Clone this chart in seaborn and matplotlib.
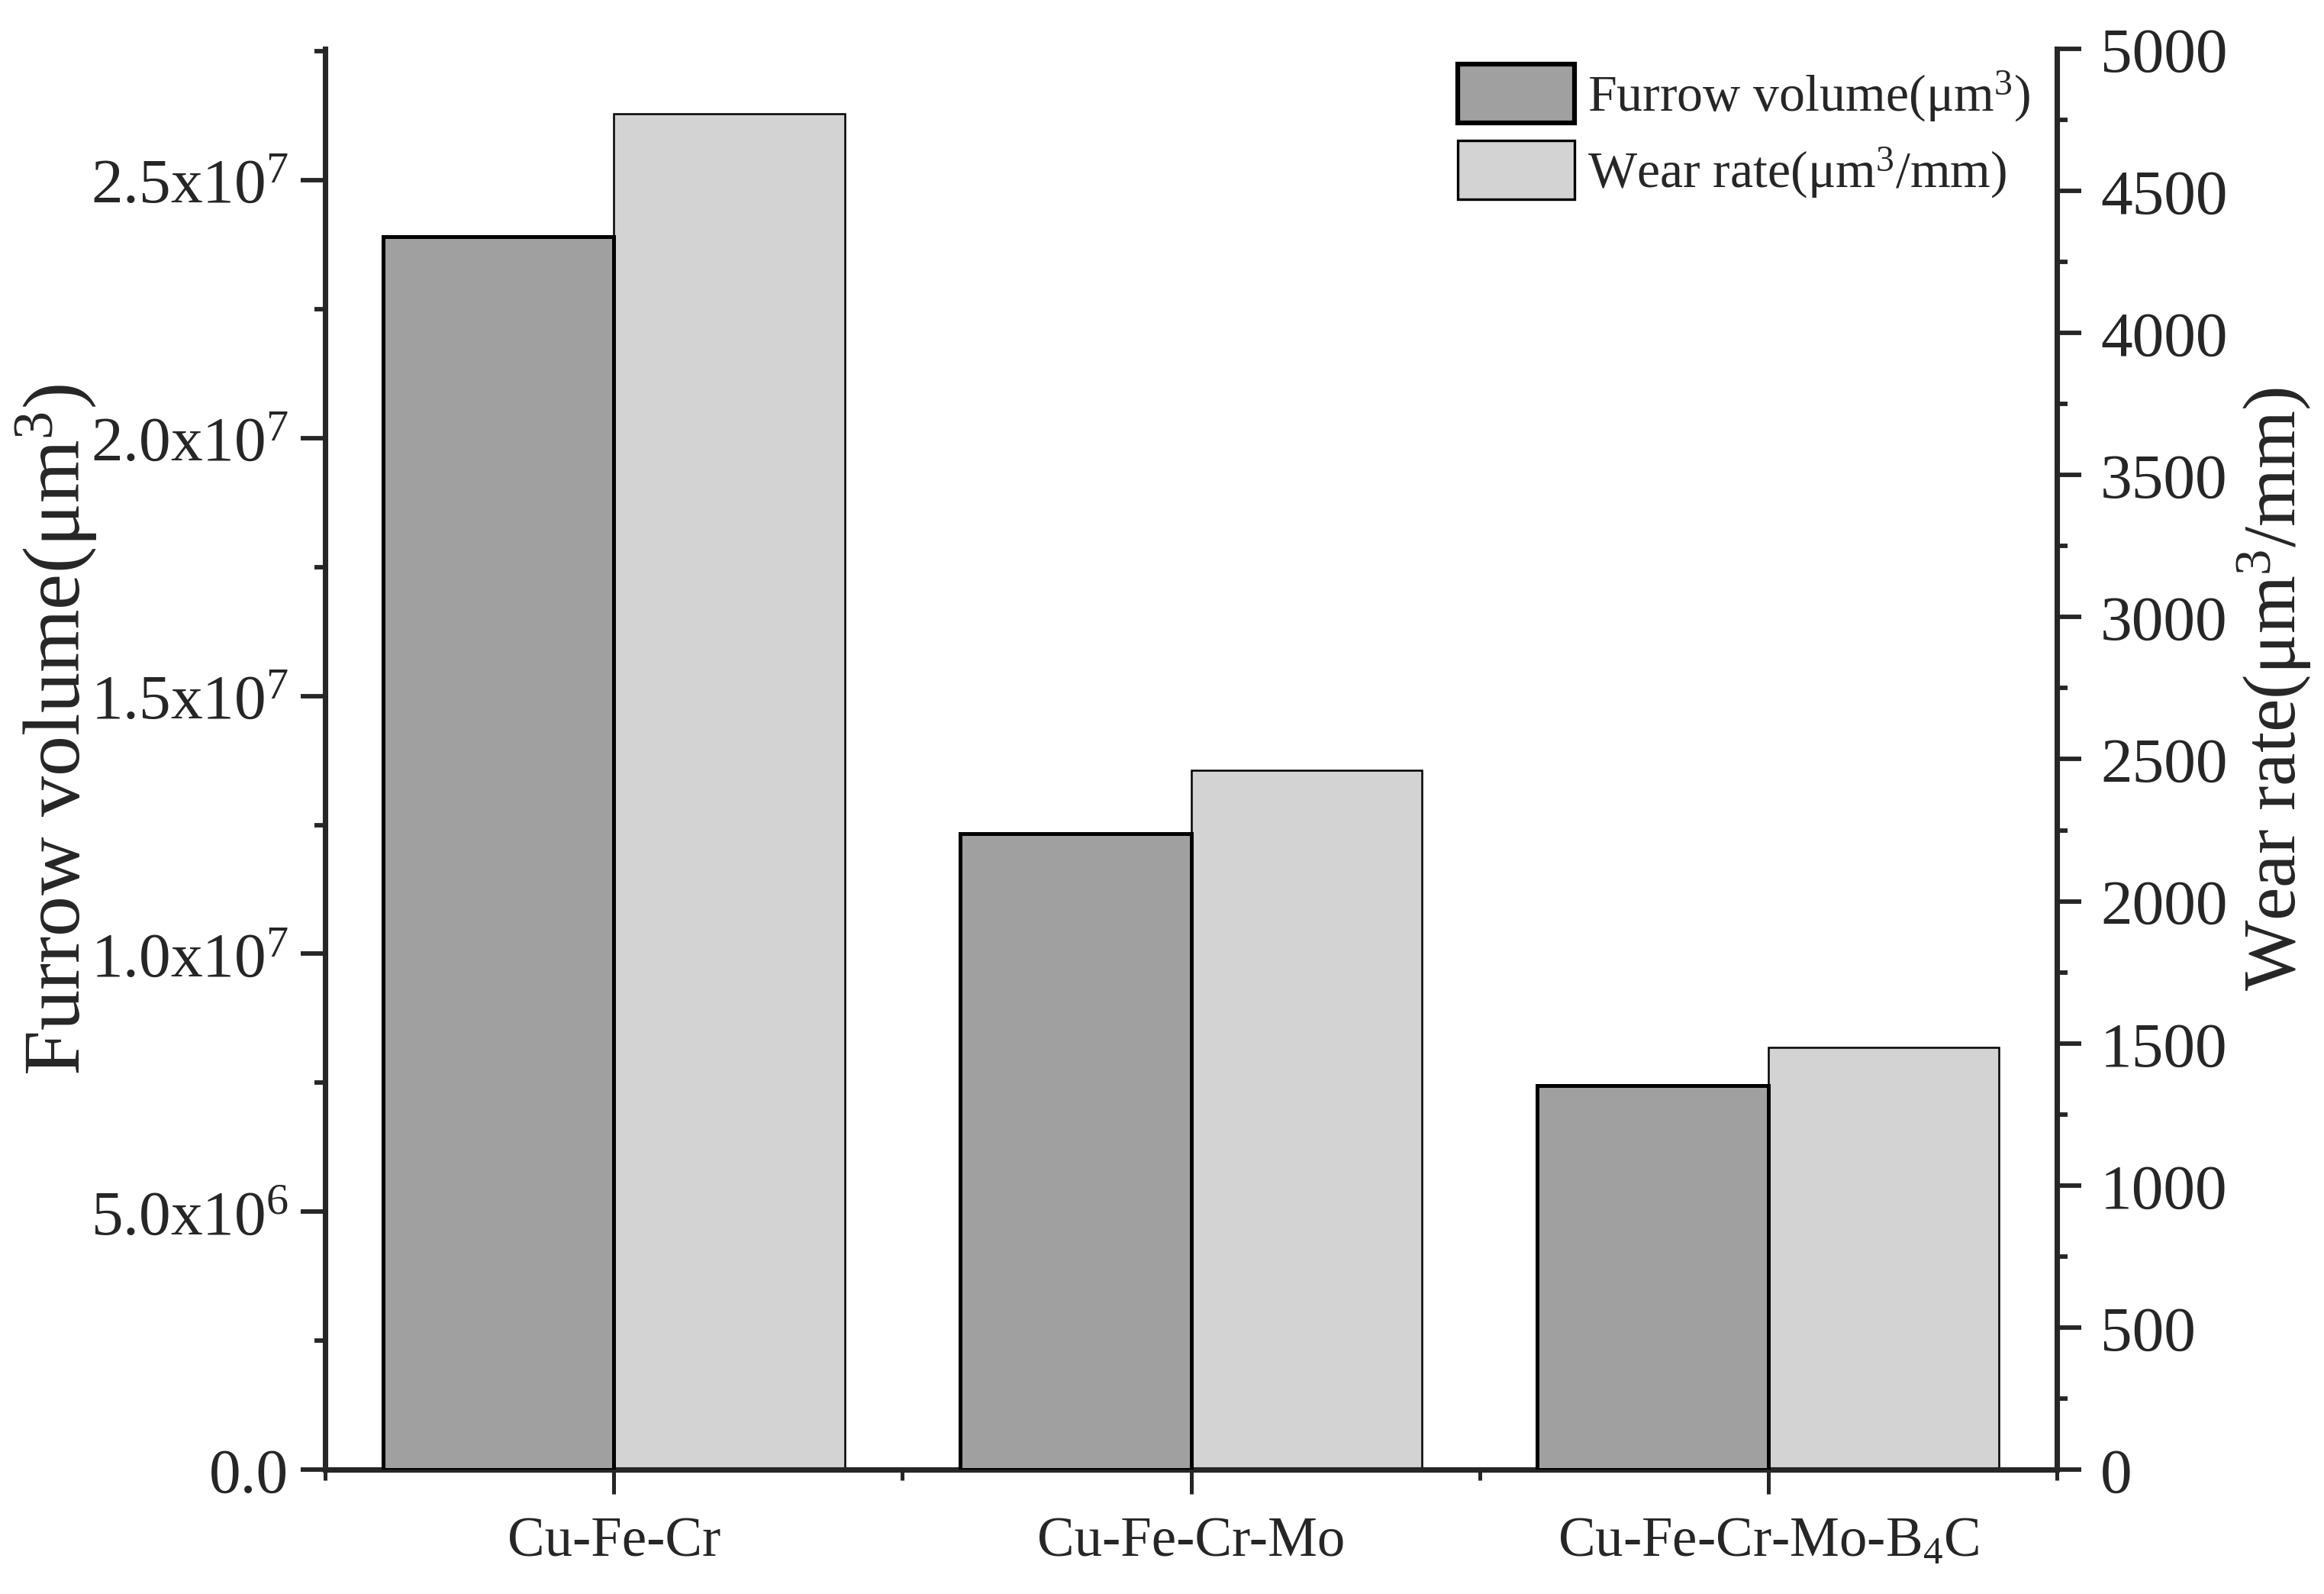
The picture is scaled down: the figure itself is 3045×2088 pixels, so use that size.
import pandas as pd
import matplotlib
matplotlib.use("Agg")
import matplotlib.pyplot as plt
import seaborn as sns
from matplotlib.patches import Patch
from matplotlib.ticker import FuncFormatter, MultipleLocator

# values
categories = ["Cu-Fe-Cr", "Cu-Fe-Cr-Mo", "Cu-Fe-Cr-Mo-B$_4$C"]
furrow_volume = [2.39e7, 1.233e7, 0.744e7]
wear_rate = [4771, 2461, 1486]
series = ["Furrow volume", "Wear rate"]
legend_labels = ["Furrow volume(μm$^3$)", "Wear rate(μm$^3$/mm)"]

DARK = "#a0a0a0"
LIGHT = "#d3d3d3"


def sci_label(v, pos):
    """
    Origin style tick text: 2.5x10^7
    """
    if v == 0:
        return "0.0"
    exp = len(str(int(v))) - 1
    mant = v / 10 ** exp
    return f"{mant:.1f}x10$^{{{exp}}}$"


def style_axis(ax, which, pad):
    ax.tick_params(axis=which, which="major", direction="out", length=7.7, width=1.4,
                   labelsize=20, pad=pad)
    ax.tick_params(axis=which, which="minor", direction="out", length=3.4, width=1.4)


sns.set_style("ticks")
plt.rcParams["font.family"] = ["Liberation Serif", "DejaVu Serif"]
plt.rcParams["mathtext.fontset"] = "custom"
plt.rcParams["mathtext.rm"] = "Liberation Serif"
plt.rcParams["mathtext.it"] = "Liberation Serif:italic"
plt.rcParams["mathtext.bf"] = "Liberation Serif:bold"
plt.rcParams["axes.linewidth"] = 1.7

df_furrow = pd.DataFrame({"category": categories, "value": furrow_volume, "series": series[0]})
df_wear = pd.DataFrame({"category": categories, "value": wear_rate, "series": series[1]})

fig = plt.figure(figsize=(10.15, 6.963), dpi=300)
ax = fig.add_axes([0.140, 0.078, 0.745, 0.891])
ax2 = ax.twinx()

sns.barplot(data=df_furrow, x="category", y="value", hue="series", hue_order=series,
            order=categories, palette=[DARK, LIGHT], width=0.8, dodge=True, ax=ax,
            edgecolor="black", linewidth=1.2, legend=False, saturation=1, zorder=3)
sns.barplot(data=df_wear, x="category", y="value", hue="series", hue_order=series,
            order=categories, palette=[DARK, LIGHT], width=0.8, dodge=True, ax=ax2,
            edgecolor="black", linewidth=0.6, legend=False, saturation=1)

ax.set_zorder(ax2.get_zorder() + 1)
ax.patch.set_visible(False)

ax.set_xlim(-0.5, 2.5)
ax.set_ylim(0, 2.755e7)
ax2.set_ylim(0, 5000)

ax.yaxis.set_major_locator(MultipleLocator(5e6))
ax.yaxis.set_minor_locator(MultipleLocator(2.5e6))
ax.yaxis.set_major_formatter(FuncFormatter(sci_label))
ax2.yaxis.set_major_locator(MultipleLocator(500))
ax2.yaxis.set_minor_locator(MultipleLocator(250))

ax.set_xticks(range(len(categories)))
ax.set_xticklabels(categories)
ax.set_xticks([-0.5, 0.5, 1.5, 2.5], minor=True)
ax.tick_params(axis="x", which="major", direction="out", length=7.7, width=1.2, labelsize=17.5, pad=7)
ax.tick_params(axis="x", which="minor", direction="out", length=3.4, width=1.2)
style_axis(ax, "y", 3.8)
style_axis(ax2, "y", 6)
ax2.tick_params(axis="x", which="both", length=0)

ax.set_xlabel("")
ax.set_ylabel("Furrow volume(μm$^3$)", fontsize=25.5)
ax.yaxis.set_label_coords(-0.131, 0.521)
ax2.set_ylabel("Wear rate(μm$^3$/mm)", fontsize=23.5, rotation=90)
ax2.yaxis.set_label_coords(1.103, 0.55)

for a in (ax, ax2):
    for s in a.spines.values():
        s.set_linewidth(1.7)
    sns.despine(ax=a, top=True, right=False, left=False)
ax.spines["right"].set_visible(False)
ax2.spines["left"].set_visible(False)
ax2.spines["bottom"].set_visible(False)

handles = [
    Patch(facecolor=DARK, edgecolor="black", linewidth=1.5, label=legend_labels[0]),
    Patch(facecolor=LIGHT, edgecolor="black", linewidth=0.8, label=legend_labels[1]),
]
ax.legend(handles=handles, loc="upper left", bbox_to_anchor=(0.654, 0.989), frameon=False,
          fontsize=16.3, handlelength=2.25, handleheight=1.37, borderpad=0, borderaxespad=0,
          handletextpad=0.25, labelspacing=0.32)

plt.savefig("out.png", dpi=300)
